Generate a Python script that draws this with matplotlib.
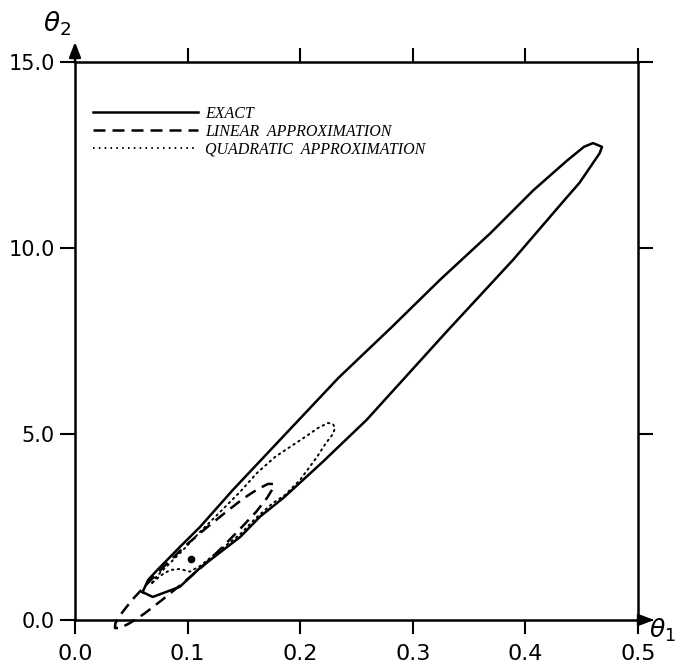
import matplotlib
matplotlib.use("Agg")
import matplotlib.pyplot as plt

# ---- data ----
exact_t1 = [0.060, 0.065, 0.073, 0.093, 0.111, 0.140, 0.182, 0.234, 0.2815, 0.324, 0.369, 0.407,
            0.437, 0.452, 0.460, 0.468, 0.466, 0.448, 0.437, 0.389, 0.330, 0.259, 0.220, 0.185,
            0.164, 0.147, 0.111, 0.093, 0.069, 0.060]
exact_t2 = [0.75, 1.08, 1.34, 1.96, 2.50, 3.49, 4.84, 6.51, 7.88, 9.14, 10.40, 11.55,
            12.35, 12.72, 12.82, 12.72, 12.55, 11.75, 11.37, 9.68, 7.75, 5.38, 4.25, 3.28,
            2.77, 2.24, 1.40, 0.89, 0.62, 0.75]

linear_t1 = [0.1758, 0.1715, 0.1625, 0.1498, 0.1341, 0.1164, 0.0977, 0.0800, 0.0639, 0.0505,
             0.0409, 0.0359, 0.0355, 0.0400, 0.0488, 0.0615, 0.0773, 0.0949, 0.1137, 0.1313,
             0.1474, 0.1608, 0.1705, 0.1755, 0.1758]
linear_t2 = [3.656, 3.659, 3.522, 3.272, 2.903, 2.470, 1.989, 1.470, 0.968, 0.535,
             0.161, -0.083, -0.215, -0.218, -0.081, 0.169, 0.538, 0.970, 1.452, 1.970,
             2.473, 2.906, 3.280, 3.524, 3.656]

quad_t1 = [0.0684, 0.0728, 0.0844, 0.0977, 0.1110, 0.1288, 0.1465, 0.1616, 0.1776, 0.1909,
           0.2043, 0.2158, 0.2247, 0.2291, 0.2309, 0.2291, 0.2229, 0.2149, 0.1998, 0.1865,
           0.1758, 0.1599, 0.1465, 0.1288, 0.1110, 0.1021, 0.0932, 0.0844, 0.0755, 0.0684]
quad_t2 = [0.995, 1.183, 1.532, 1.935, 2.366, 2.903, 3.441, 3.952, 4.382, 4.651,
           4.919, 5.161, 5.296, 5.269, 5.161, 5.000, 4.758, 4.382, 3.763, 3.360,
           3.145, 2.720, 2.300, 1.880, 1.450, 1.300, 1.371, 1.344, 1.183, 0.995]

estimate_t1 = [0.103]
estimate_t2 = [1.64]

xticks = [0.0, 0.1, 0.2, 0.3, 0.4, 0.5]
xticklabels = ["0.0", "0.1", "0.2", "0.3", "0.4", "0.5"]
yticks = [0.0, 5.0, 10.0, 15.0]
yticklabels = ["0.0", "5.0", "10.0", "15.0"]
legend_labels = ["EXACT", "LINEAR  APPROXIMATION", "QUADRATIC  APPROXIMATION"]

# ---- figure ----
W, H = 679, 670
fig = plt.figure(figsize=(W / 100, H / 100), dpi=100)
ax = fig.add_axes([75 / W, 50 / H, 563 / W, 558 / H])
ax.set_xlim(0, 0.5)
ax.set_ylim(0, 15)

lw = 1.8
ax.plot(exact_t1, exact_t2, color="black", lw=lw, solid_joinstyle="round", clip_on=False)
ax.plot(linear_t1, linear_t2, color="black", lw=lw, linestyle=(0, (4.8, 2.8)), clip_on=False)
ax.plot(quad_t1, quad_t2, color="black", lw=1.4, linestyle=(0, (0.8, 2.2)),
        dash_capstyle="round", clip_on=False)
ax.plot(estimate_t1, estimate_t2, "o", color="black", ms=4.5)

for s in ax.spines.values():
    s.set_linewidth(1.8)

ax.set_xticks(xticks)
ax.set_xticklabels(xticklabels)
ax.set_yticks(yticks)
ax.set_yticklabels(yticklabels)
ax.tick_params(axis="both", direction="out", width=1.5, top=True, right=True,
               labeltop=False, labelright=False)
ax.tick_params(axis="x", length=10, pad=7, labelsize=16)
ax.tick_params(axis="y", length=10.5, pad=4, labelsize=15)

# arrows on the axes
arrow_kw = dict(arrowstyle="-|>,head_length=0.9,head_width=0.35", color="black", lw=1.8,
                shrinkA=0, shrinkB=0)
ax.annotate("", xy=(0, 1 + 20 / 558), xytext=(0, 1), xycoords="axes fraction",
            arrowprops=arrow_kw, annotation_clip=False)
ax.annotate("", xy=(1 + 16 / 563, 0), xytext=(1, 0), xycoords="axes fraction",
            arrowprops=arrow_kw, annotation_clip=False)

fig.text(57 / W, 1 - 24 / H, r"$\theta_2$", fontsize=19, ha="center", va="center")
fig.text(662 / W, 1 - 630 / H, r"$\theta_1$", fontsize=18, ha="center", va="center")

# legend drawn by hand
lx0, lx1, tx = 93 / W, 198 / W, 205 / W
ys = [112, 130, 148]
styles = [dict(lw=1.8, linestyle="-"), dict(lw=1.8, linestyle=(0, (4.8, 2.8))),
          dict(lw=1.4, linestyle=(0, (0.8, 2.2)))]
for yy, st, lab in zip(ys, styles, legend_labels):
    fig.add_artist(plt.Line2D([lx0, lx1], [1 - yy / H, 1 - yy / H], color="black",
                              transform=fig.transFigure, **st))
    fig.text(tx, 1 - (yy + 6) / H, lab, fontsize=11.5, family="Liberation Serif",
             style="italic", ha="left", va="baseline")

fig.savefig("out.png", dpi=100)
